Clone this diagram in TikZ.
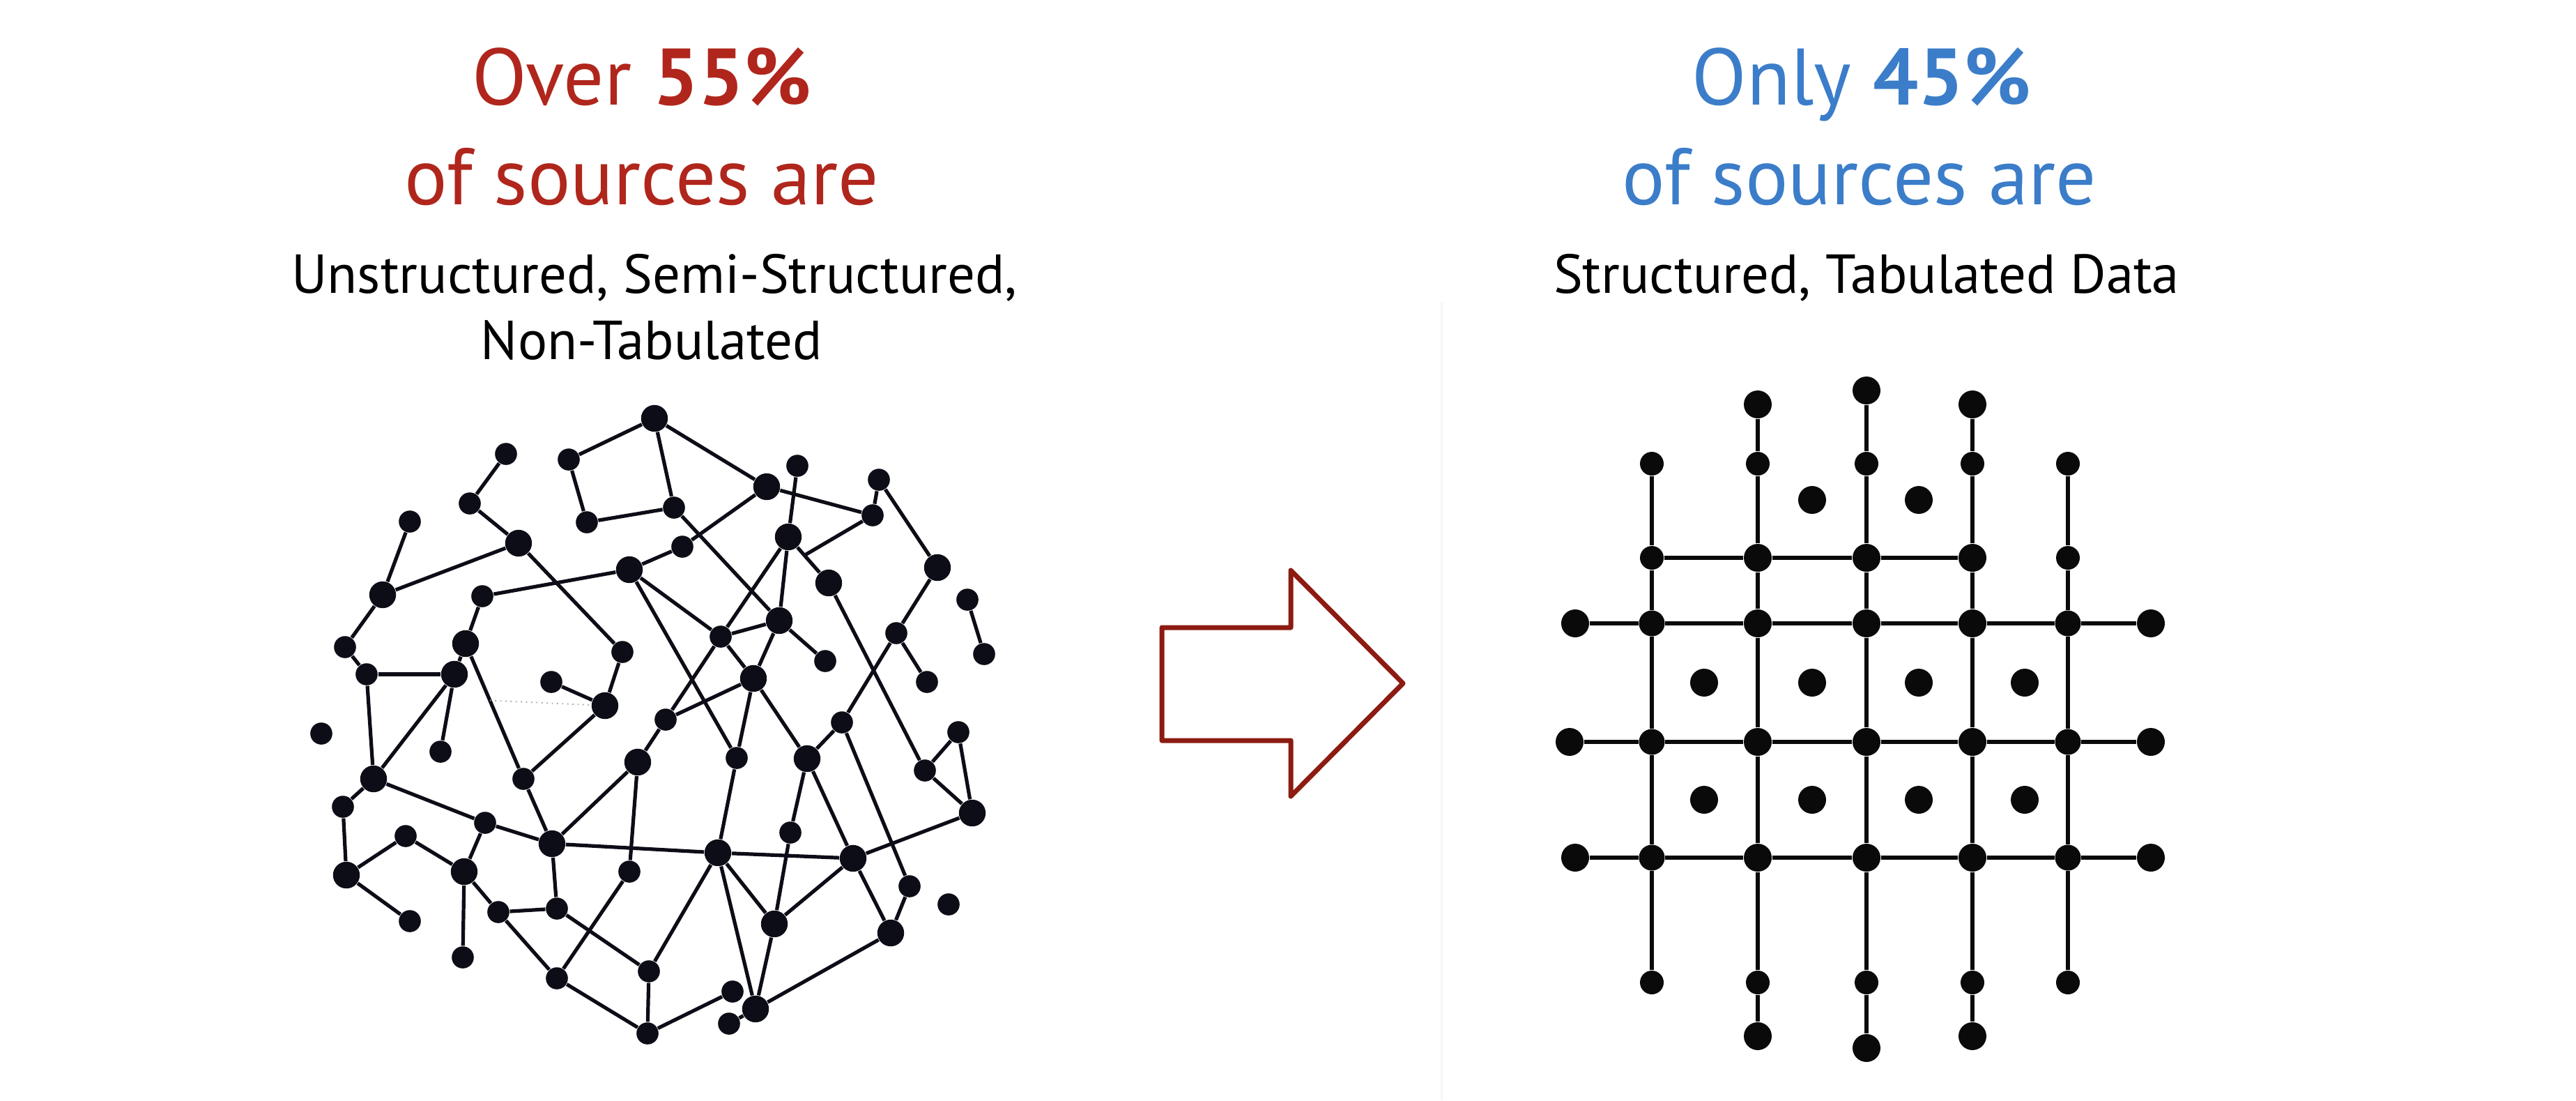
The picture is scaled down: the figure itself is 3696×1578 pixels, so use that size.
\documentclass[tikz,border=0pt]{standalone}
\usepackage{fontspec}
\setmainfont{PT Sans}
\usetikzlibrary{calc}
\definecolor{netc}{RGB}{12,13,22}
\definecolor{gridc}{RGB}{10,10,10}
\definecolor{redt}{RGB}{176,38,28}
\definecolor{bluet}{RGB}{59,125,201}
\definecolor{arrc}{RGB}{140,27,17}
\definecolor{sepc}{RGB}{244,246,249}
\begin{document}
\begin{tikzpicture}[x=0.25pt,y=-0.25pt,
 ns/.style={circle,fill=netc,inner sep=0pt,minimum size=7.9pt},
 nl/.style={circle,fill=netc,inner sep=0pt,minimum size=9.6pt},
 link/.style={draw=netc,line width=1.3pt},
 gs/.style={circle,fill=gridc,inner sep=0pt,minimum size=8.5pt},
 gm/.style={circle,fill=gridc,inner sep=0pt,minimum size=9.25pt},
 gl/.style={circle,fill=gridc,inner sep=0pt,minimum size=10pt},
 gline/.style={draw=gridc,line width=1.4pt},
 ttl/.style={anchor=base,font=\fontsize{28.75pt}{34pt}\selectfont,inner sep=0pt},
 subt/.style={anchor=base,font=\fontsize{19.7pt}{23pt}\selectfont,inner sep=0pt,text=black},
]
\useasboundingbox (0,0) rectangle (3696,1578);

% faint separator
\draw[sepc,line width=0.75pt] (2068,433) -- (2068,1578);

% titles
\node[ttl,text=redt] (t1a) at (921,150) {Over \textbf{55\%}};
\node[ttl,text=redt] (t1b) at (921,293) {of sources are};
\node[subt] (s1a) at (939,420) {Unstructured, Semi-Structured,};
\node[subt] (s1b) at (935,515) {Non-Tabulated};
\node[ttl,text=bluet] (t2a) at (2671,150) {Only \textbf{45\%}};
\node[ttl,text=bluet] (t2b) at (2668,293) {of sources are};
\node[subt] (s2a) at (2678,420) {Structured, Tabulated Data};

% network nodes
\foreach \n/\x/\y/\s in {
 A1/939/600/nl, A2/816/659/ns, A3/842/749/ns, A4/726/651/ns, A5/674/722/ns,
 A6/744/779/nl, A7/588/748/ns, A8/549/853/nl, A9/903/817/nl, A10/692/855/ns,
 A11/495/928/ns, A12/668/923/nl, A13/526/967/ns, A14/652/967/nl, A15/893/935/ns,
 A16/791/978/ns, A17/868/1012/nl,
 B2/967/728/ns, B3/1100/698/nl, B4/1144/668/ns, B5/1261/688/ns, B6/1252/739/ns,
 B7/1131/770/nl, B8/979/784/ns, B10/1189/836/nl, B11/1345/814/nl, B12/1118/890/nl,
 B13/1034/913/ns, B14/1388/860/ns, B15/1412/938/ns, B16/1184/948/ns, B17/1286/908/ns,
 B18/1330/978/ns, B19/1081/973/nl, B20/955/1032/ns, B21/1208/1036/ns, B22/1375/1050/ns,
 C1/461/1052/ns, C2/632/1078/ns, C3/536/1117/nl, C4/492/1157/ns, C5/751/1117/ns,
 C7/915/1093/nl, C8/582/1199/ns, C9/696/1180/ns, C10/792/1210/nl, C11/497/1255/nl,
 C12/666/1250/nl, C13/903/1250/ns, C14/588/1321/ns, C15/715/1308/ns, C16/799/1303/ns,
 C17/664/1373/ns, C18/799/1403/ns, C19/931/1393/ns, C20/929/1482/ns,
 D3/1057/1087/ns, D4/1158/1088/nl, D7/1327/1105/ns, D8/1395/1166/nl, D9/1134/1194/ns,
 D10/1030/1223/nl, D11/1224/1231/nl, D13/1305/1271/ns, D14/1361/1297/ns, D15/1111/1325/nl,
 D16/1278/1338/nl, D18/1051/1422/ns, D19/1084/1447/nl, D20/1046/1468/ns}
 \node[\s] (\n) at (\x,\y) {};

\coordinate (J1) at ($(B7)!0.4!(B10)$);
\coordinate (dotS) at ($(A12)!0.42!(C5)$);

% network links
\foreach \a/\b in {
 A1/A2, A2/A3, A3/B2, A1/B2, A1/B3, A4/A5, A5/A6, A6/A8, A7/A8, A6/A15,
 A10/A9, A9/B8, B8/B3, A9/B13, A9/D3, A8/A11, A11/A13, A13/A14, A10/A12, A12/A14,
 A12/C5, A14/C3, A14/C2, A13/C3, A15/A17, A16/A17, A17/C5,
 B2/B12, B3/B6, B4/B7, B5/B6, B6/J1, B7/B10, B7/B13, B7/B12, B12/B13, B12/B16,
 B12/B19, B13/B19, B13/B20, B19/B20, B19/D3, B19/D4, B10/D7, B5/B11, B11/B17,
 B17/B18, B17/B21, B14/B15, B21/D4, B21/D13, B22/D7, B22/D8, D7/D8,
 C3/C4, C4/C11, C3/C9, C9/C10, C9/C12, C5/C10, C10/C7, C7/B20, C7/C13, C10/D10,
 C10/C16, C11/C8, C8/C12, C11/C14, C12/C17, C12/C15, C15/C16, C15/C18, C16/C19,
 C13/C18, C18/C20, C19/C20, C19/D10, C20/D18,
 D3/D10, D4/D9, D4/D11, D10/D11, D8/D11, D9/D15, D10/D15, D10/D19, D11/D15,
 D11/D16, D13/D16, D15/D19, D16/D19, D20/D19}
 \draw[link] (\a) -- (\b);

\draw[gray!70,line width=0.45pt,dash pattern=on 0.45pt off 1.4pt] (dotS) -- (A17);

% arrow
\draw[arrc,line width=1.75pt,line join=round]
 (1667,900) -- (1852,900) -- (1852,818) -- (2013,980) -- (1852,1142) -- (1852,1062) -- (1667,1062) -- cycle;

% grid nodes
\foreach \n/\x/\y/\s in {
 g1t/2370/665/gs, g2a/2522/580/gl, g2t/2522/665/gs, g3a/2678/560/gl, g3t/2678/665/gs,
 g4a/2830/580/gl, g4t/2830/665/gs, g5t/2967/665/gs,
 g11/2370/800/gs, g21/2522/800/gl, g31/2678/800/gl, g41/2830/800/gl, g51/2967/800/gs,
 gL2/2260/894/gl, g12/2370/894/gm, g22/2522/894/gl, g32/2678/894/gl, g42/2830/894/gl, g52/2967/894/gm, gR2/3086/894/gl,
 gL3/2252/1064/gl, g13/2370/1064/gm, g23/2522/1064/gl, g33/2678/1064/gl, g43/2830/1064/gl, g53/2967/1064/gm, gR3/3086/1064/gl,
 gL4/2260/1230/gl, g14/2370/1230/gm, g24/2522/1230/gl, g34/2678/1230/gl, g44/2830/1230/gl, g54/2967/1230/gm, gR4/3086/1230/gl,
 g1b/2370/1409/gs, g2b/2522/1409/gs, g3b/2678/1409/gs, g4b/2830/1409/gs, g5b/2967/1409/gs,
 g2z/2522/1486/gl, g3z/2678/1503/gl, g4z/2830/1486/gl,
 d1/2600/717/gl, d2/2753/717/gl,
 d3/2445/979/gl, d4/2600/979/gl, d5/2753/979/gl, d6/2905/979/gl,
 d7/2445/1147/gl, d8/2600/1147/gl, d9/2753/1147/gl, d10/2905/1147/gl}
 \node[\s] (\n) at (\x,\y) {};

% grid lines
\draw[gline] (g11) -- (g21) -- (g31) -- (g41);
\draw[gline] (gL2) -- (g12) -- (g22) -- (g32) -- (g42) -- (g52) -- (gR2);
\draw[gline] (gL3) -- (g13) -- (g23) -- (g33) -- (g43) -- (g53) -- (gR3);
\draw[gline] (gL4) -- (g14) -- (g24) -- (g34) -- (g44) -- (g54) -- (gR4);
\draw[gline] (g1t) -- (g11) -- (g12) -- (g13) -- (g14) -- (g1b);
\draw[gline] (g2a) -- (g2t) -- (g21) -- (g22) -- (g23) -- (g24) -- (g2b) -- (g2z);
\draw[gline] (g3a) -- (g3t) -- (g31) -- (g32) -- (g33) -- (g34) -- (g3b) -- (g3z);
\draw[gline] (g4a) -- (g4t) -- (g41) -- (g42) -- (g43) -- (g44) -- (g4b) -- (g4z);
\draw[gline] (g5t) -- (g51) -- (g52) -- (g53) -- (g54) -- (g5b);
\end{tikzpicture}
\end{document}
